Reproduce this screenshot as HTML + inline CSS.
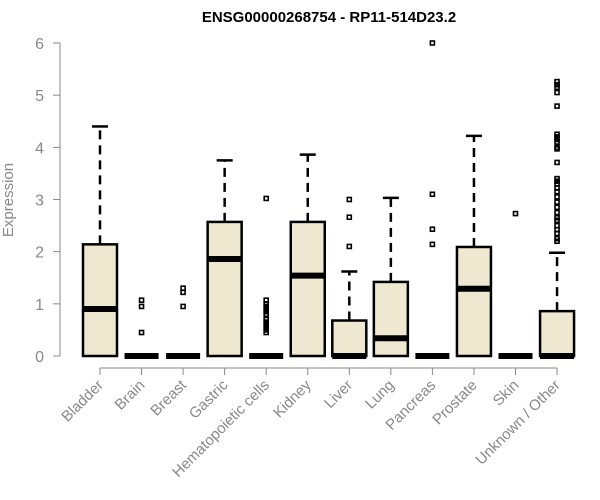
<!DOCTYPE html>
<html><head><meta charset="utf-8"><style>body{margin:0;background:#fff}svg{display:block}text{font-family:"Liberation Sans",Arial,sans-serif}</style></head>
<body>
<svg id="chart" width="600" height="500" viewBox="0 0 600 500">
<text x="329" y="22" text-anchor="middle" font-size="15" font-weight="bold">ENSG00000268754 - RP11-514D23.2</text>
<text transform="translate(13,200) rotate(-90)" text-anchor="middle" font-size="15" fill="#888">Expression</text>
<g id="yaxis"></g>
<g id="xaxis"></g>
<g id="boxes"></g>
</svg>
<script>
const categories=["Bladder","Brain","Breast","Gastric","Hematopoietic cells","Kidney","Liver","Lung","Pancreas","Prostate","Skin","Unknown / Other"];
const q1=[0,0,0,0,0,0,0,0,0,0,0,0];
const medians=[0.9,0,0,1.86,0,1.54,0,0.34,0,1.29,0,0];
const q3=[2.14,0,0,2.57,0,2.57,0.68,1.42,0,2.09,0,0.86];
const whiskerHigh=[4.4,0,0,3.75,0,3.86,1.62,3.03,0,4.22,0,1.98];
const outliers=[[],[1.07,0.95,0.45],[1.3,1.22,0.95],[],[3.02,1.07,1.0,0.95,0.9,0.85,0.8,0.7,0.65,0.6,0.55,0.5,0.45],[],[3.0,2.66,2.1],[],[6.0,3.1,2.43,2.14],[],[2.73],
[5.26,5.2,5.15,5.05,4.79,4.25,4.2,4.15,4.1,4.0,3.97,3.71,3.4,3.35,3.3,3.22,3.15,3.05,2.95,2.85,2.75,2.65,2.6,2.5,2.42,2.35,2.25,2.2]];
const yTicks=[0,1,2,3,4,5,6];
const NS="http://www.w3.org/2000/svg";
const y=v=>356-v*52.17, x=i=>100+i*41.55;
function mk(tag,attrs,parent){const e=document.createElementNS(NS,tag);for(const k in attrs)e.setAttribute(k,attrs[k]);parent.appendChild(e);return e;}
const ya=document.getElementById('yaxis'),xa=document.getElementById('xaxis'),bx=document.getElementById('boxes');
mk('line',{x1:60,x2:60,y1:y(6),y2:y(0),stroke:'#888'},ya);
yTicks.forEach(t=>{const l=mk('line',{x1:53,x2:60,y1:y(t),y2:y(t),stroke:'#888'},ya);


const tx=mk('text',{x:44,y:y(t)+6,'text-anchor':'end','font-size':16,fill:'#888'},ya);tx.textContent=t;

});
mk('line',{x1:x(0),x2:x(11),y1:368,y2:368,stroke:'#888'},xa);
categories.forEach((c,i)=>{mk('line',{x1:x(i),x2:x(i),y1:368,y2:375,stroke:'#888'},xa);
const t=mk('text',{transform:`translate(${x(i)+4},${386}) rotate(-45)`,'text-anchor':'end','font-size':15,fill:'#888'},xa);t.textContent=c;


const g=mk('g',{},bx);


const cx=x(i),hw=17;
if(whiskerHigh[i]>q3[i]){mk('line',{x1:cx,x2:cx,y1:y(q3[i]),y2:y(whiskerHigh[i]),stroke:'#000','stroke-width':2.5,'stroke-dasharray':'9,6'},g);
mk('line',{x1:cx-8,x2:cx+8,y1:y(whiskerHigh[i]),y2:y(whiskerHigh[i]),stroke:'#000','stroke-width':2.5},g);}
if(q3[i]>q1[i])mk('rect',{x:cx-hw,y:y(q3[i]),width:2*hw,height:y(q1[i])-y(q3[i]),fill:'#ede8cf',stroke:'#000','stroke-width':2.5},g);
mk('line',{x1:cx-hw,x2:cx+hw,y1:y(medians[i]),y2:y(medians[i]),stroke:'#000','stroke-width':6},g);
outliers[i].forEach(v=>{const r=mk('rect',{x:cx-2,y:y(v)-2,width:4,height:4,fill:'none',stroke:'#000','stroke-width':1.6},g);

});});
</script>
</body></html>
